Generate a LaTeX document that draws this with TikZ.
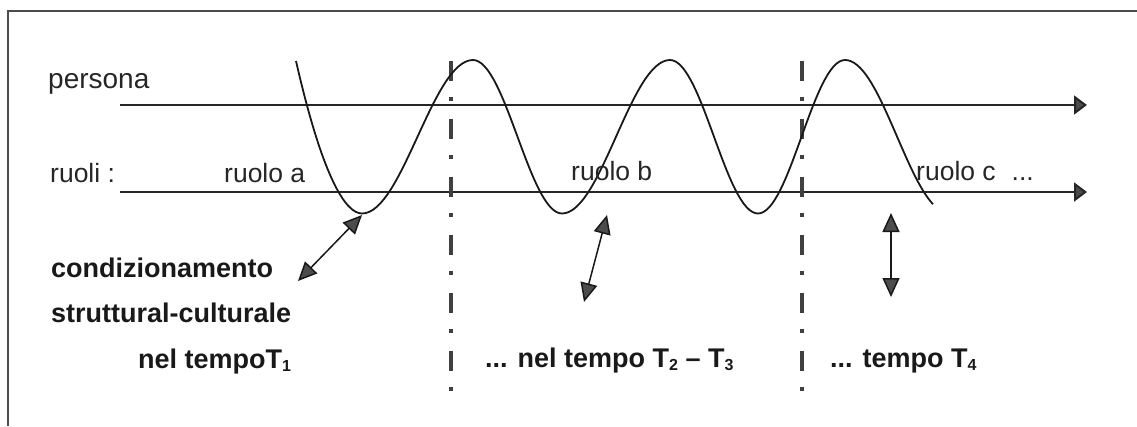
\documentclass[tikz,border=0pt]{standalone}
\usepackage{fontspec}
\setmainfont{Liberation Sans}
\usetikzlibrary{arrows.meta}
\newcommand\tsub[1]{\raisebox{-3pt}{\fontsize{16}{16}\selectfont #1}}
\begin{document}
\begin{tikzpicture}[x=1pt,y=-1pt,
  lbl/.style={anchor=base west, inner sep=0pt, text=black!85, font=\fontsize{26.5}{30}\selectfont},
  blbl/.style={anchor=base west, inner sep=0pt, text=black!90, font=\fontsize{27}{30}\selectfont\bfseries},
  axisarrow/.style={line width=2pt, draw=black!85, -{Triangle[length=13pt,width=19pt,fill=black!70]}},
  wave/.style={line width=1.8pt, draw=black!90},
  divider/.style={line width=4.5pt, draw=black!75, dash pattern=on 20pt off 16pt on 4pt off 18pt},
  link/.style={line width=1.5pt, draw=black!90, {Triangle[length=19pt,width=17pt,fill=black!70]}-{Triangle[length=19pt,width=17pt,fill=black!70]}},
  frameline/.style={line width=1.5pt, draw=black!70}]
\useasboundingbox (0,0) rectangle (1137,426);

% frame
\draw[frameline] (1137,11) -- (8,11) -- (8,426);

% axes
\coordinate (pA) at (120,105);
\coordinate (pB) at (1087,105);
\coordinate (rA) at (120,192);
\coordinate (rB) at (1087,192);
\draw[axisarrow] (pA) -- (pB);
\draw[axisarrow] (rA) -- (rB);

% dividers
\coordinate (d1t) at (451,60.5);
\coordinate (d1b) at (451,392);
\coordinate (d2t) at (802,60.5);
\coordinate (d2b) at (802,392);
\draw[divider] (d1t) -- (d1b);
\draw[divider] (d2t) -- (d2b);

% wave
\draw[wave] (296,61) .. controls (322,175) and (345,213.5) .. (362,213.5)
  .. controls (402.3,213.5) and (432.7,60) .. (473,60)
  .. controls (505.3,60) and (529.7,213.5) .. (562,213.5)
  .. controls (601.3,213.5) and (630.7,60) .. (670,60)
  .. controls (702,60) and (726,213.5) .. (758,213.5)
  .. controls (789.6,213.5) and (813.4,60) .. (845,60)
  -- plot[domain=845:933, samples=30, smooth] (\x, {136.5-76.5*cos(180*(\x-845)/104)});

% double arrows
\coordinate (a1s) at (298,281);
\coordinate (a1e) at (362,215);
\coordinate (a2s) at (584,302);
\coordinate (a2e) at (607,215);
\coordinate (a3s) at (891,297);
\coordinate (a3e) at (891,213);
\draw[link] (a1s) -- (a1e);
\draw[link] (a2s) -- (a2e);
\draw[link] (a3s) -- (a3e);

% labels
\node[lbl, font=\fontsize{28}{30}\selectfont] (persona) at (48,88) {persona};
\node[lbl] (ruoli) at (50,182) {ruoli :};
\node[lbl] (ruoloa) at (224,182) {ruolo a};
\node[lbl] (ruolob) at (571,180) {ruolo b};
\node[lbl] (ruoloc) at (916,180) {ruolo c\hspace{16pt}...};

\node[blbl] (cond) at (51,277) {condizionamento};
\node[blbl] (strut) at (51,322) {struttural-culturale};
\node[blbl] (t1) at (138,368) {nel tempoT\tsub{1}};
\node[blbl] (t23) at (485,367) {... nel tempo T\tsub{2} -- T\tsub{3}};
\node[blbl] (t4) at (830,367) {... tempo T\tsub{4}};
\end{tikzpicture}
\end{document}
